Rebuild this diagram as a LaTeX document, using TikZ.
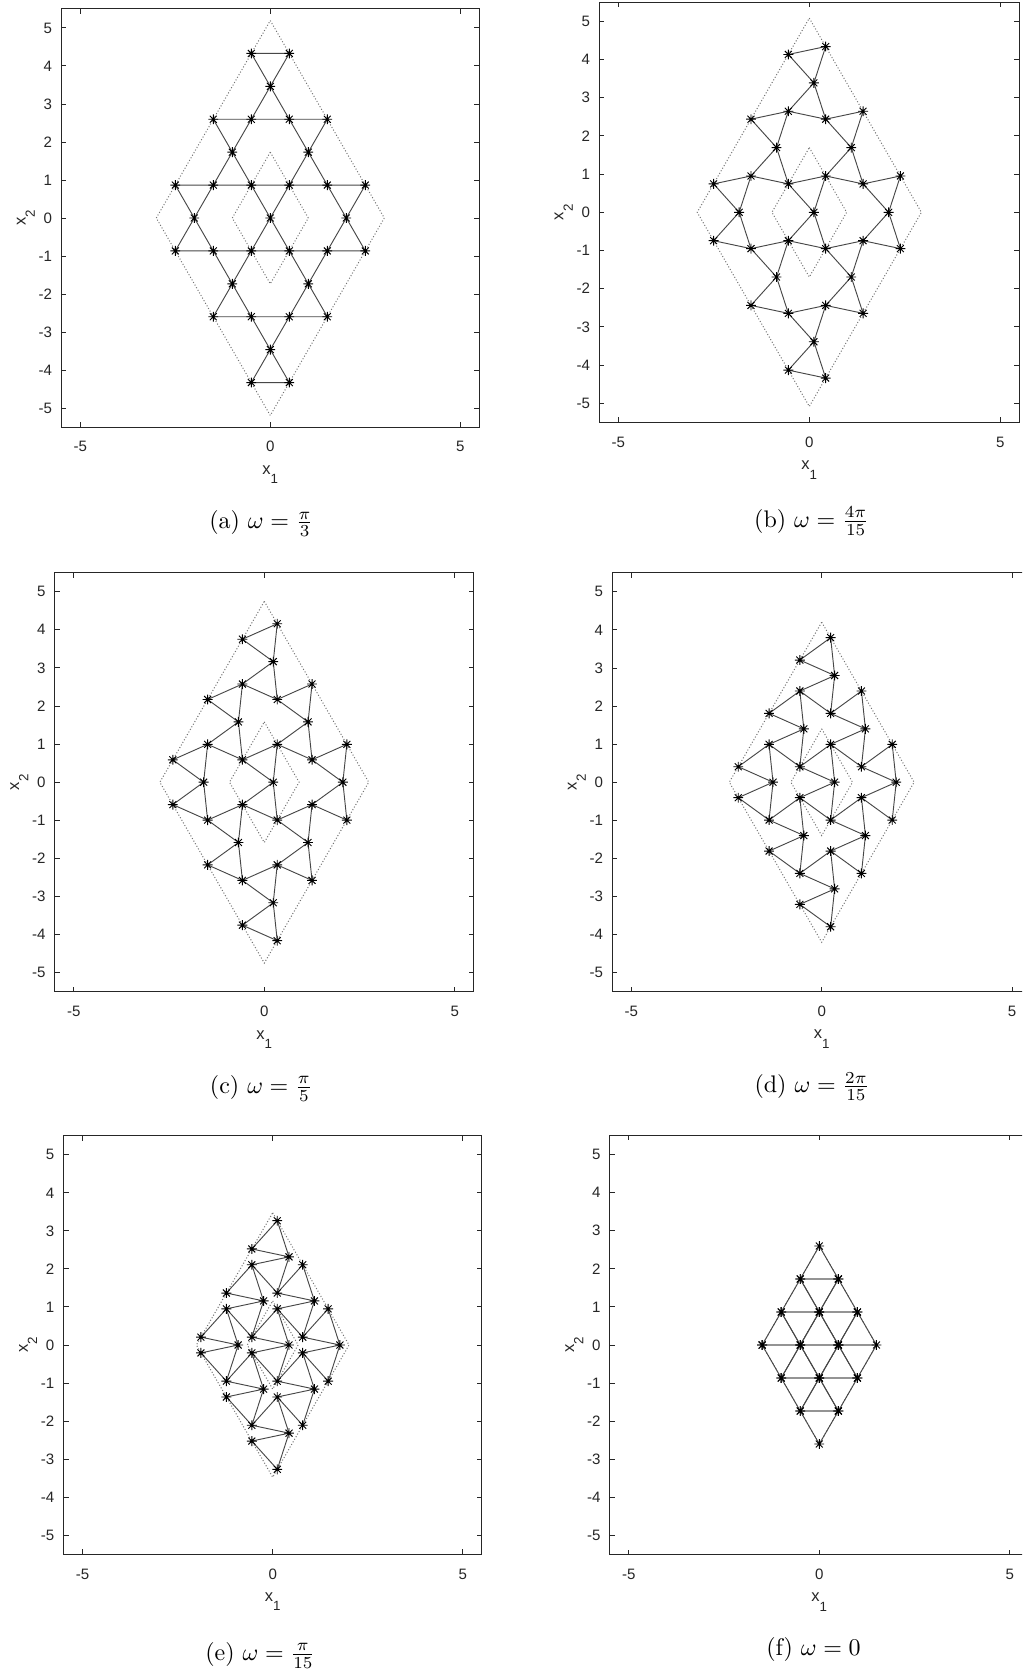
\documentclass[tikz,border=0pt]{standalone}
\usepackage{fontspec}
\newfontfamily\axfont{Liberation Sans}
\definecolor{axcol}{rgb}{0.15,0.15,0.15}
\tikzset{
 axbox/.style={draw=axcol, line width=0.75pt},
 ticklab/.style={font=\axfont\fontsize{11.3}{13}\selectfont, text=axcol, inner sep=0pt},
 axlab/.style={font=\axfont\fontsize{12.4}{14}\selectfont, text=axcol, inner sep=0pt},
 rhomb/.style={draw=black!55, line width=0.75pt, dash pattern=on 0.75pt off 1.5pt},
 kedge/.style={draw=black!72, line width=0.7pt},
 astk/.style={draw=black, line width=0.7pt},
 caplab/.style={font=\fontsize{10}{12}\selectfont, scale=1.8, inner sep=0pt},
}
\newcommand\kgstar[1]{\draw[astk] (#1) +(-3.7pt,0) -- +(3.7pt,0) +(0,-3.7pt) -- +(0,3.7pt)
  +(-2.6pt,-2.6pt) -- +(2.6pt,2.6pt) +(-2.6pt,2.6pt) -- +(2.6pt,-2.6pt);}
\newcommand\kgplot[2]{%
 \pgfmathsetmacro\kgPhi{60-#2}%
 \pgfmathsetmacro\kgL{2*cos(\kgPhi)}%
 \pgfmathsetmacro\kgS{sin(\kgPhi)/sqrt(3)}%
 \pgfmathsetmacro\kgR{sqrt(3)}%
 % dotted rhombi
 \coordinate (#1oT) at (0,{1.5*\kgR*\kgL});
 \coordinate (#1oR) at ({1.5*\kgL},0);
 \coordinate (#1oB) at (0,{-1.5*\kgR*\kgL});
 \coordinate (#1oL) at ({-1.5*\kgL},0);
 \coordinate (#1iT) at (0,{0.5*\kgR*\kgL});
 \coordinate (#1iR) at ({0.5*\kgL},0);
 \coordinate (#1iB) at (0,{-0.5*\kgR*\kgL});
 \coordinate (#1iL) at ({-0.5*\kgL},0);
 \draw[rhomb] (#1oT) -- (#1oR) -- (#1oB) -- (#1oL) -- cycle;
 \draw[rhomb] (#1iT) -- (#1iR) -- (#1iB) -- (#1iL) -- cycle;
 % vertices
 \foreach \i in {0,1,2}{\foreach \j in {0,1,2,3}{
   \coordinate (#1A1\i\j) at ({\kgL*(2*\i+1-2*\j)/4-\kgS/2},{\kgL*\kgR*(5-2*\i-2*\j)/4+\kgS*\kgR/2});
 }}
 \foreach \i in {0,1,2,3}{\foreach \j in {0,1,2}{
   \coordinate (#1A2\i\j) at ({\kgL*(2*\i-2*\j-1)/4-\kgS/2},{\kgL*\kgR*(5-2*\i-2*\j)/4-\kgS*\kgR/2});
 }}
 \foreach \i in {0,1,2}{\foreach \j in {0,1,2}{
   \coordinate (#1H\i\j) at ({\kgL*(\i-\j)/2+\kgS},{\kgL*\kgR*(2-\i-\j)/2});
 }}
 % triangles
 \foreach \i in {0,1,2}{\foreach \j in {0,1,2}{
   \pgfmathtruncatemacro\kgip{\i+1}%
   \pgfmathtruncatemacro\kgjp{\j+1}%
   \draw[kedge] (#1A1\i\j) -- (#1A2\i\j) -- (#1H\i\j) -- cycle;
   \draw[kedge] (#1H\i\j) -- (#1A2\kgip\j) -- (#1A1\i\kgjp) -- cycle;
 }}
 % markers
 \foreach \i in {0,1,2}{\foreach \j in {0,1,2,3}{\kgstar{#1A1\i\j}}}
 \foreach \i in {0,1,2,3}{\foreach \j in {0,1,2}{\kgstar{#1A2\i\j}}}
 \foreach \i in {0,1,2}{\foreach \j in {0,1,2}{\kgstar{#1H\i\j}}}
 % axes
 \draw[axbox] (-5.5,-5.5) rectangle (5.5,5.5);
 \foreach \kgt in {-5,0,5}{
   \draw[axbox] (\kgt,-5.5) -- ++(0,3.75pt);
   \draw[axbox] (\kgt,5.5) -- ++(0,-3.75pt);
   \node[ticklab, anchor=center] (#1xt\kgt) at ([yshift=-14.8pt]\kgt,-5.5) {\kgt};
 }
 \foreach \kgt in {-5,...,5}{
   \draw[axbox] (-5.5,\kgt) -- ++(3.75pt,0);
   \draw[axbox] (5.5,\kgt) -- ++(-3.75pt,0);
   \node[ticklab, anchor=east] (#1yt\kgt) at ([xshift=-6.75pt]-5.5,\kgt) {\kgt};
 }
 \node[axlab, anchor=base] (#1xl) at ([yshift=-35.5pt]0,-5.5) {x\raisebox{-7pt}{\fontsize{10}{12}\selectfont 1}};
 \node[axlab, anchor=base, rotate=90] (#1yl) at ([xshift=-26.8pt]-5.5,0) {x\raisebox{-7pt}{\fontsize{10}{12}\selectfont 2}};
}
\begin{document}
\begin{tikzpicture}[x=0.75pt,y=-0.75pt]
\useasboundingbox (0,0) rectangle (1022,1670);
\clip (0,0) rectangle (1022,1670);
\fill[white] (0,0) rectangle (1022,1670);
\begin{scope}[shift={(270.3,218.0)},x=28.5pt,y=28.5pt]
 \kgplot{a}{60}
\end{scope}
\begin{scope}[shift={(809.3,212.3)},x=28.65pt,y=28.65pt]
 \kgplot{b}{48}
\end{scope}
\begin{scope}[shift={(264.3,782.2)},x=28.575pt,y=28.575pt]
 \kgplot{c}{36}
\end{scope}
\begin{scope}[shift={(821.7,782.2)},x=28.55pt,y=28.55pt]
 \kgplot{d}{24}
\end{scope}
\begin{scope}[shift={(272.7,1345.0)},x=28.52pt,y=28.52pt]
 \kgplot{e}{12}
\end{scope}
\begin{scope}[shift={(819.3,1345.0)},x=28.575pt,y=28.575pt]
 \kgplot{f}{0}
\end{scope}
\node[caplab, anchor=base] (capa) at (261.3,528.7) {(a) $\omega=\frac{\pi}{3}$};
\node[caplab, anchor=base] (capb) at (811.7,527.0) {(b) $\omega=\frac{4\pi}{15}$};
\node[caplab, anchor=base] (capc) at (261.3,1093.0) {(c) $\omega=\frac{\pi}{5}$};
\node[caplab, anchor=base] (capd) at (812.0,1092.7) {(d) $\omega=\frac{2\pi}{15}$};
\node[caplab, anchor=base] (cape) at (260.3,1660.0) {(e) $\omega=\frac{\pi}{15}$};
\node[caplab, anchor=base] (capf) at (813.5,1655.0) {(f) $\omega=0$};
\end{tikzpicture}
\end{document}
